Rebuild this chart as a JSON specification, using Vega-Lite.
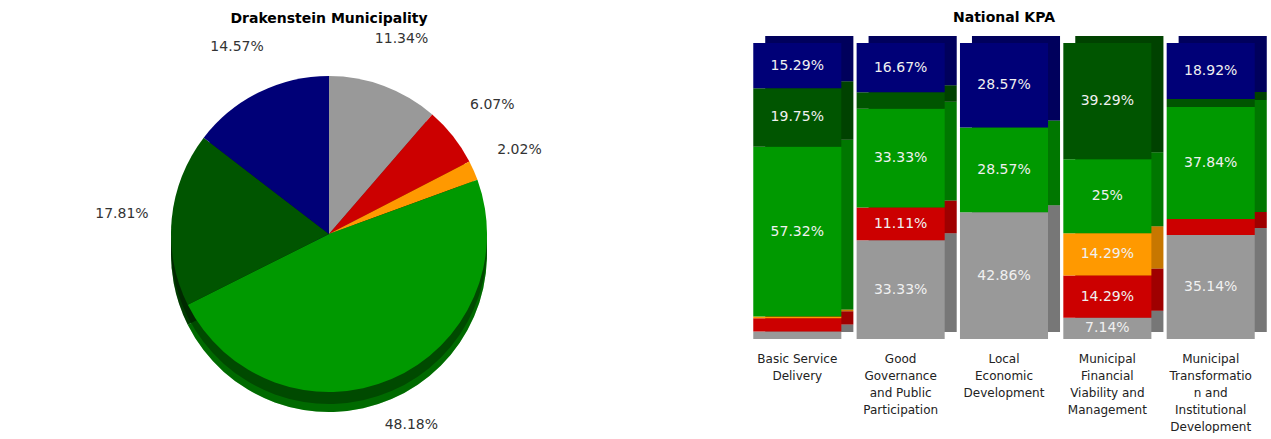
{
  "$schema": "https://vega.github.io/schema/vega-lite/v6.json",
  "padding": {"left": 0, "top": 10, "right": 0, "bottom": 0},
  "background": "white",
  "config": {
    "view": {"stroke": null},
    "font": "DejaVu Sans",
    "title": {"font": "DejaVu Sans", "fontSize": 14, "fontWeight": "bold", "color": "#000000", "anchor": "middle"}
  },
  "data": {
    "values": [
      {"kpa": "Basic Service Delivery", "status": "Not Yet Measured", "ord": 1, "n": 4},
      {"kpa": "Basic Service Delivery", "status": "Not Met", "ord": 2, "n": 7},
      {"kpa": "Basic Service Delivery", "status": "Almost Met", "ord": 3, "n": 1},
      {"kpa": "Basic Service Delivery", "status": "Met", "ord": 4, "n": 90},
      {"kpa": "Basic Service Delivery", "status": "Well Met", "ord": 5, "n": 31},
      {"kpa": "Basic Service Delivery", "status": "Extremely Well Met", "ord": 6, "n": 24},
      {"kpa": "Good Governance and Public Participation", "status": "Not Yet Measured", "ord": 1, "n": 6},
      {"kpa": "Good Governance and Public Participation", "status": "Not Met", "ord": 2, "n": 2},
      {"kpa": "Good Governance and Public Participation", "status": "Almost Met", "ord": 3, "n": 0},
      {"kpa": "Good Governance and Public Participation", "status": "Met", "ord": 4, "n": 6},
      {"kpa": "Good Governance and Public Participation", "status": "Well Met", "ord": 5, "n": 1},
      {"kpa": "Good Governance and Public Participation", "status": "Extremely Well Met", "ord": 6, "n": 3},
      {"kpa": "Local Economic Development", "status": "Not Yet Measured", "ord": 1, "n": 3},
      {"kpa": "Local Economic Development", "status": "Not Met", "ord": 2, "n": 0},
      {"kpa": "Local Economic Development", "status": "Almost Met", "ord": 3, "n": 0},
      {"kpa": "Local Economic Development", "status": "Met", "ord": 4, "n": 2},
      {"kpa": "Local Economic Development", "status": "Well Met", "ord": 5, "n": 0},
      {"kpa": "Local Economic Development", "status": "Extremely Well Met", "ord": 6, "n": 2},
      {"kpa": "Municipal Financial Viability and Management", "status": "Not Yet Measured", "ord": 1, "n": 2},
      {"kpa": "Municipal Financial Viability and Management", "status": "Not Met", "ord": 2, "n": 4},
      {"kpa": "Municipal Financial Viability and Management", "status": "Almost Met", "ord": 3, "n": 4},
      {"kpa": "Municipal Financial Viability and Management", "status": "Met", "ord": 4, "n": 7},
      {"kpa": "Municipal Financial Viability and Management", "status": "Well Met", "ord": 5, "n": 11},
      {"kpa": "Municipal Financial Viability and Management", "status": "Extremely Well Met", "ord": 6, "n": 0},
      {"kpa": "Municipal Transformation and Institutional Development", "status": "Not Yet Measured", "ord": 1, "n": 13},
      {"kpa": "Municipal Transformation and Institutional Development", "status": "Not Met", "ord": 2, "n": 2},
      {"kpa": "Municipal Transformation and Institutional Development", "status": "Almost Met", "ord": 3, "n": 0},
      {"kpa": "Municipal Transformation and Institutional Development", "status": "Met", "ord": 4, "n": 14},
      {"kpa": "Municipal Transformation and Institutional Development", "status": "Well Met", "ord": 5, "n": 1},
      {"kpa": "Municipal Transformation and Institutional Development", "status": "Extremely Well Met", "ord": 6, "n": 7}
    ]
  },
  "hconcat": [
    {
      "title": {"text": "Drakenstein Municipality", "offset": 6},
      "width": 658,
      "height": 390,
      "transform": [
        {"aggregate": [{"op": "sum", "field": "n", "as": "total"}], "groupby": ["status", "ord"]},
        {"stack": "total", "groupby": [], "sort": [{"field": "ord", "order": "ascending"}], "offset": "normalize", "as": ["t0", "t1"]},
        {"calculate": "(datum.t0 + datum.t1) / 2", "as": "tm"},
        {"calculate": "format((datum.t1 - datum.t0) * 100, '.2f') + '%'", "as": "lbl"}
      ],
      "encoding": {
        "theta": {"field": "t0", "type": "quantitative", "scale": {"domain": [0, 1], "range": [0, 6.283185307]}},
        "theta2": {"field": "t1"}
      },
      "layer": [
        {
          "mark": {"type": "arc", "outerRadius": 158, "yOffset": 8},
          "encoding": {"color": {"field": "status", "type": "nominal", "legend": null}}
        },
        {
          "mark": {"type": "arc", "outerRadius": 158, "yOffset": 16},
          "encoding": {"color": {"field": "status", "type": "nominal", "legend": null}}
        },
        {
          "mark": {"type": "arc", "outerRadius": 158, "yOffset": 8, "color": "#000000", "opacity": 0.3},
          "encoding": {}
        },
        {
          "mark": {"type": "arc", "outerRadius": 158, "yOffset": 16, "color": "#000000", "opacity": 0.3},
          "encoding": {}
        },
        {
          "mark": {"type": "arc", "outerRadius": 158, "yOffset": -4},
          "encoding": {
            "color": {
              "field": "status", "type": "nominal", "legend": null,
              "scale": {
                "domain": ["Not Yet Measured", "Not Met", "Almost Met", "Met", "Well Met", "Extremely Well Met"],
                "range": ["#999999", "#cc0000", "#ff9900", "#009900", "#005500", "#000077"]
              }
            }
          }
        },
        {
          "mark": {"type": "text", "radius": 208, "yOffset": -4, "fontSize": 14, "color": "#333333"},
          "encoding": {
            "theta": {"field": "tm", "type": "quantitative", "scale": {"domain": [0, 1], "range": [0, 6.283185307]}},
            "theta2": null,
            "text": {"field": "lbl"}
          }
        }
      ]
    },
    {
      "title": {"text": "National KPA", "offset": 11},
      "width": 518,
      "height": 296,
      "transform": [
        {"joinaggregate": [{"op": "sum", "field": "n", "as": "kt"}], "groupby": ["kpa"]},
        {"calculate": "datum.n / datum.kt * 100", "as": "pct"},
        {"stack": "pct", "groupby": ["kpa"], "sort": [{"field": "ord", "order": "ascending"}], "as": ["y0", "y1"]},
        {"calculate": "(datum.y0 + datum.y1) / 2", "as": "ym"},
        {"calculate": "datum.pct >= 7 ? format(datum.pct, '.2~f') + '%' : ''", "as": "lbl"}
      ],
      "encoding": {
        "x": {
          "field": "kpa", "type": "nominal", "sort": null, "title": null,
          "scale": {"paddingInner": 0.148, "paddingOuter": 0.08},
          "axis": {
            "domain": false, "ticks": false, "labelAngle": 0, "labelPadding": 14,
            "labelFontSize": 12, "labelColor": "#222222", "labelLineHeight": 17, "labelBaseline": "top",
            "labelLimit": 200,
            "labelExpr": "datum.value == 'Basic Service Delivery' ? ['Basic Service', 'Delivery'] : datum.value == 'Good Governance and Public Participation' ? ['Good', 'Governance', 'and Public', 'Participation'] : datum.value == 'Local Economic Development' ? ['Local', 'Economic', 'Development'] : datum.value == 'Municipal Financial Viability and Management' ? ['Municipal', 'Financial', 'Viability and', 'Management'] : ['Municipal', 'Transformatio', 'n and', 'Institutional', 'Development']"
          }
        }
      },
      "layer": [
        {
          "mark": {"type": "bar", "xOffset": 12, "x2Offset": 12, "yOffset": -7, "y2Offset": -7},
          "encoding": {
            "y": {"field": "y0", "type": "quantitative", "scale": {"domain": [0, 100], "nice": false}, "axis": null},
            "y2": {"field": "y1"},
            "color": {"field": "status", "type": "nominal", "legend": null}
          }
        },
        {
          "mark": {"type": "bar", "xOffset": 12, "x2Offset": 12, "yOffset": -7, "y2Offset": -7, "color": "#000000", "opacity": 0.22},
          "encoding": {
            "y": {"field": "y0", "type": "quantitative"},
            "y2": {"field": "y1"}
          }
        },
        {
          "mark": {"type": "bar"},
          "encoding": {
            "y": {"field": "y0", "type": "quantitative"},
            "y2": {"field": "y1"},
            "color": {"field": "status", "type": "nominal", "legend": null}
          }
        },
        {
          "mark": {"type": "text", "fontSize": 14, "color": "#f0f0f0", "baseline": "middle"},
          "encoding": {
            "y": {"field": "ym", "type": "quantitative"},
            "text": {"field": "lbl"}
          }
        }
      ]
    }
  ],
  "spacing": 87,
  "resolve": {"scale": {"color": "shared"}}
}
